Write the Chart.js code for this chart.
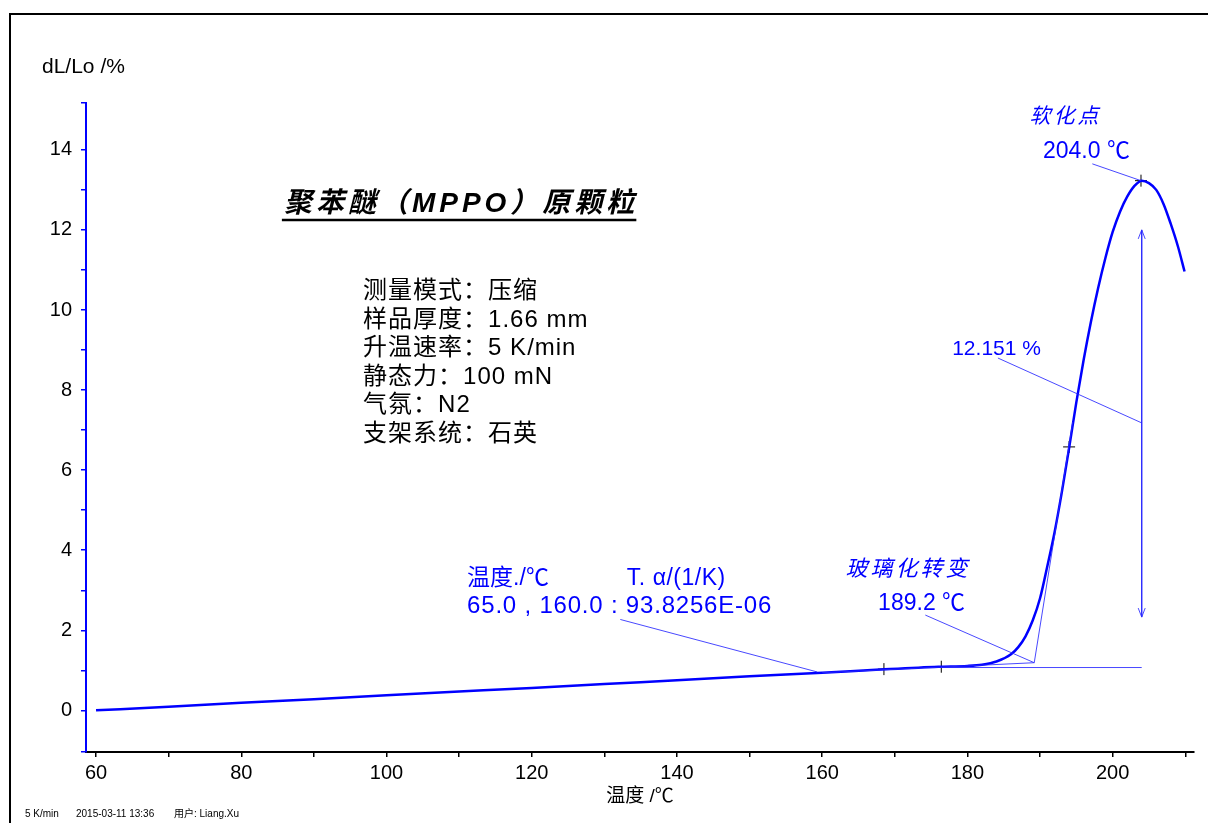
<!DOCTYPE html>
<html><head><meta charset="utf-8">
<script src="https://cdn.jsdelivr.net/npm/chart.js@4/dist/chart.umd.min.js"></script>
<style>html,body{margin:0;padding:0;background:#fff;overflow:hidden}</style>
</head><body>
<canvas id="c" width="1208" height="823"></canvas>
<script>
// ---- data ----
const temperature = [60,70,80,90,100,110,120,130,140,150,160,168,176,180,182,184,186,187,188,189,190,191,192,193,194,195,196,197,198,199,200,201,202,203,204,205,206,207,208,209,209.9];
const dLLo = [0.00,0.09,0.19,0.28,0.38,0.47,0.56,0.66,0.75,0.85,0.94,1.02,1.09,1.11,1.14,1.22,1.40,1.58,1.85,2.25,2.80,3.60,4.45,5.45,6.55,7.70,8.75,9.70,10.55,11.30,11.95,12.45,12.83,13.10,13.23,13.17,13.00,12.65,12.15,11.58,10.96];
const markerT = [168.5,176.4,194.0,203.9];
const markerV = [1.03,1.09,6.58,13.23];
// analysis construction lines  [T, value] pairs
const fitLine = [[160,0.94],[189.2,1.19]];
const tangentLine = [[189.2,1.19],[194.5,7.2]];
const baseLine = [[176.4,1.07],[204.0,1.07]];
const arrowLine = [[204.0,12.0],[204.0,2.33]];
const leaderAlpha = [[132.2,2.27],[159.3,0.96]];
const leaderTg = [[174.2,2.38],[189.2,1.19]];
const leaderPct = [[184.2,8.80],[204.0,7.18]];
const leaderSoft = [[197.2,13.65],[203.9,13.23]];
const xRange = [58.62, 211.2];
const yRange = [-1.04, 15.17];
const xLabelStep = 20, yLabelStep = 2;

const infoLines = ['测量模式：压缩','样品厚度：1.66 mm','升温速率：5 K/min','静态力：100 mN','气氛：N2','支架系统：石英'];

const LAT = '"Liberation Sans", Arial, "Noto Sans CJK SC", sans-serif';
const BLUE = '#0000ff';
const THIN = 'rgba(40,40,255,0.85)';

const seg = (pts) => ({type:'scatter', data: pts.map(p=>({x:p[0],y:p[1]})), showLine:true, borderColor:THIN, borderWidth:1, pointRadius:0, fill:false});

const textPlugin = {
  id:'texts',
  beforeDraw(chart){
    const c = chart.ctx;
    c.save();
    c.fillStyle='#fff'; c.fillRect(0,0,chart.width,chart.height);
    c.strokeStyle='#000'; c.lineWidth=2;
    c.strokeRect(10,14,1400,1000);
    c.restore();
  },
  afterDraw(chart){
    const c = chart.ctx, xs = chart.scales.x, ys = chart.scales.y;
    const X = v=>xs.getPixelForValue(v), Y = v=>ys.getPixelForValue(v);
    c.save();
    // arrow heads
    c.strokeStyle=THIN; c.lineWidth=1;
    const ax = X(arrowLine[0][0]), at = Y(arrowLine[0][1]), ab = Y(arrowLine[1][1]);
    c.beginPath(); c.moveTo(ax-3.5,at+9); c.lineTo(ax,at); c.lineTo(ax+3.5,at+9); c.stroke();
    c.beginPath(); c.moveTo(ax-3.5,ab-9); c.lineTo(ax,ab); c.lineTo(ax+3.5,ab-9); c.stroke();

    const txt=(s,x,y,font,color,align,spacing)=>{
      c.font=font; c.fillStyle=color; c.textAlign=align||'left'; c.textBaseline='alphabetic';
      c.letterSpacing = (spacing||0)+'px';
      c.fillText(s,x,y);
      c.letterSpacing='0px';
    };
    // axis titles
    txt('dL/Lo /%',42,73,'21px '+LAT,'#000');
    c.textBaseline='middle';
    c.font='19px '+LAT; c.fillStyle='#000'; c.textAlign='center';
    c.fillText('温度 /℃',640,797);
    // title
    const title='聚苯醚（MPPO）原颗粒';
    const tFont='italic bold 28px '+LAT;
    const tx = X(110.0), ty = Y(12.45);
    c.font=tFont; c.letterSpacing='4px';
    const tw = c.measureText(title).width - 4; c.letterSpacing='0px';
    txt(title,tx-tw/2,ty,tFont,'#000','left',4);
    c.strokeStyle='#000'; c.lineWidth=2.5;
    c.beginPath(); c.moveTo(tx-tw/2-2,ty+8); c.lineTo(tx+tw/2+2,ty+8); c.stroke();
    // info block
    infoLines.forEach((s,i)=>txt(s,X(96.78),Y(10.30)+i*28.6,'24px '+LAT,'#000','left',1));
    // annotations
    txt('软化点',X(193.5),Y(14.66),'italic 21px '+LAT,BLUE,'center',3);
    txt('204.0 ℃',X(190.4),Y(13.8),'23px '+LAT,BLUE,'left');
    txt('12.151 %',X(177.9),Y(8.87),'21px '+LAT,BLUE,'left');
    txt('玻璃化转变',X(163.2),Y(3.36),'italic 22px '+LAT,BLUE,'left',3);
    txt('189.2 ℃',X(167.7),Y(2.51),'23px '+LAT,BLUE,'left');
    txt('温度./℃',X(111.1),Y(3.13),'23px '+LAT,BLUE,'left');
    txt('T. α/(1/K)',X(133.1),Y(3.13),'23px '+LAT,BLUE,'left',0.5);
    txt('65.0 , 160.0 : 93.8256E-06',X(111.1),Y(2.43),'24px '+LAT,BLUE,'left',0.8);
    // footer
    txt('5 K/min',25,817,'10px '+LAT,'#000');
    txt('2015-03-11 13:36',76,817,'10px '+LAT,'#000');
    txt('用户: Liang.Xu',174,817,'10px '+LAT,'#000');
    c.restore();
  }
};

new Chart(document.getElementById('c'), {
  type:'scatter',
  data:{datasets:[
    seg(fitLine), seg(tangentLine), seg(baseLine), seg(arrowLine),
    seg(leaderAlpha), seg(leaderTg), seg(leaderPct), seg(leaderSoft),
    {type:'scatter', data: temperature.map((t,i)=>({x:t,y:dLLo[i]})), showLine:true, borderColor:BLUE, borderWidth:2.5, pointRadius:0, cubicInterpolationMode:'monotone', fill:false},
    {type:'scatter', data: markerT.map((t,i)=>({x:t,y:markerV[i]})), showLine:false, pointStyle:'cross', pointRadius:6, borderColor:'#000', borderWidth:1}
  ]},
  options:{
    responsive:false, animation:false, devicePixelRatio:1,
    layout:{padding:{left:0,right:14,top:103,bottom:0}},
    plugins:{legend:{display:false}, tooltip:{enabled:false}},
    scales:{
      x:{type:'linear', min:xRange[0], max:xRange[1],
        border:{color:'#000', width:2},
        grid:{drawOnChartArea:false, drawTicks:true, tickLength:5, color:'#000', lineWidth:1.5},
        ticks:{stepSize:10, includeBounds:false, autoSkip:false, maxRotation:0, color:'#000', padding:4,
          font:{family:LAT, size:20},
          callback:v=> (Math.abs(v%xLabelStep)<1e-6 ? String(v) : '')},
        afterFit:s=>{s.height=71;}
      },
      y:{type:'linear', min:yRange[0], max:yRange[1],
        border:{color:BLUE, width:2},
        grid:{drawOnChartArea:false, drawTicks:true, tickLength:5, color:BLUE, lineWidth:1.5},
        ticks:{stepSize:1, includeBounds:true, autoSkip:false, color:'#000', padding:9,
          font:{family:LAT, size:20},
          callback:v=>{const r=Math.round(v); return (Math.abs(v-r)<1e-6 && r%yLabelStep===0) ? String(r) : '';}},
        afterFit:s=>{s.width=86;}
      }
    }
  },
  plugins:[textPlugin]
});
</script>
</body></html>
